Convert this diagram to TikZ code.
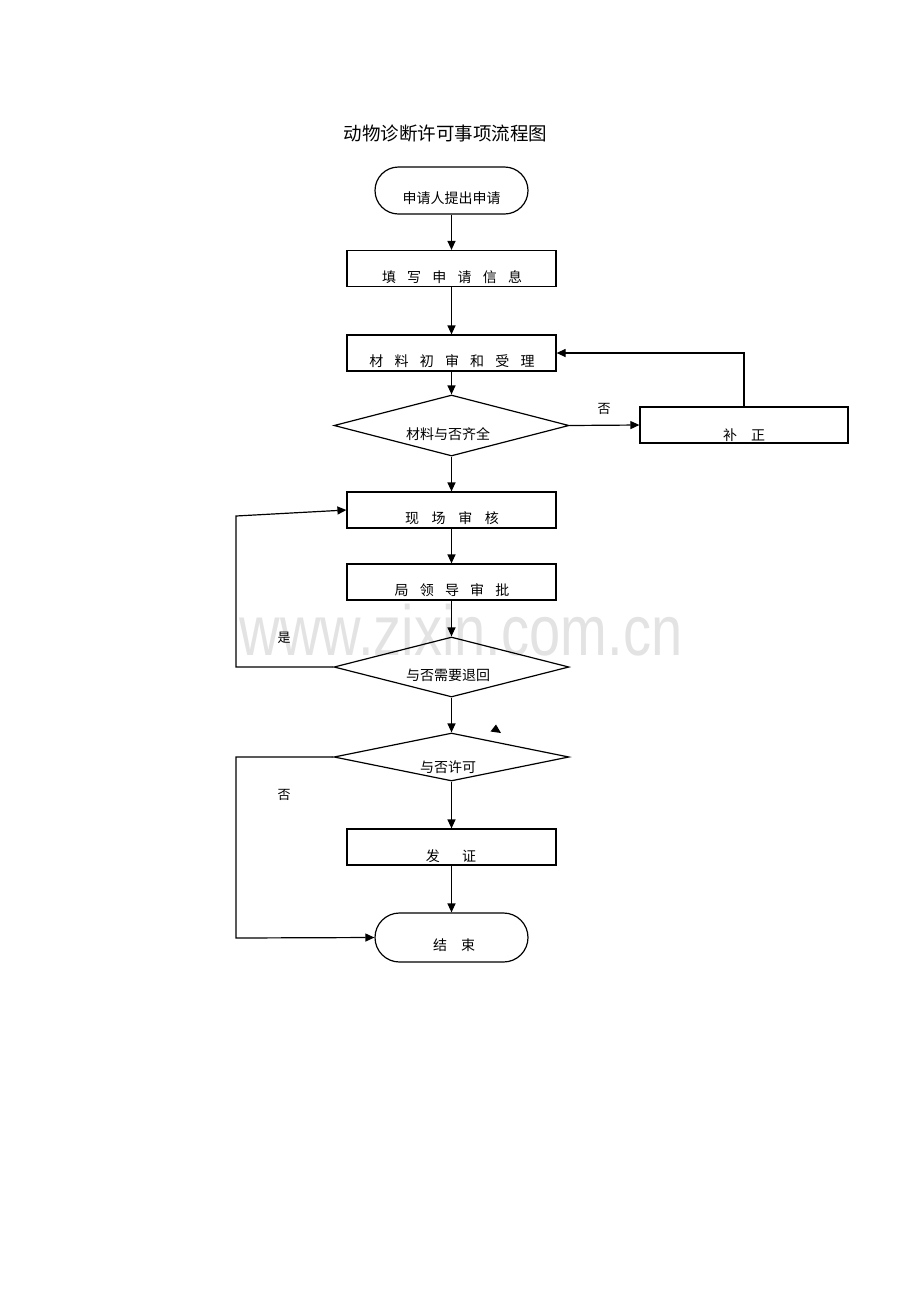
\documentclass[tikz,border=0pt]{standalone}
\usepackage{fontspec}
\setmainfont{Liberation Sans}
\newfontfamily\cjk{Noto Sans CJK SC}
\usetikzlibrary{arrows.meta,shapes.geometric,shapes.misc}
\begin{document}
\begin{tikzpicture}[x=1pt,y=-1pt,
  line width=1.2pt,
  arr/.style={-{Triangle[length=9pt,width=8pt]}},
  flowbox/.style={draw,rectangle,minimum width=209pt,minimum height=36pt,inner sep=0pt},
  fixbox/.style={draw,rectangle,minimum width=208pt,minimum height=36pt,inner sep=0pt},
  term/.style={draw,rounded rectangle,minimum width=153pt,minimum height=47pt,inner sep=0pt},
  decide/.style={draw,diamond,inner sep=0pt},
  txt/.style={font=\cjk\fontsize{14}{14}\selectfont,inner sep=0pt},
  lbl/.style={font=\cjk\fontsize{13}{13}\selectfont,inner sep=0pt}]
\useasboundingbox (0,0) rectangle (920,1302);
% watermark
\node[text=black!11,font=\fontsize{71}{71}\selectfont,xscale=0.79,anchor=base,inner sep=0pt] (wm) at (461,655) {www.zixin.com.cn};
% title
\node[font=\cjk\fontsize{18.5}{18.5}\selectfont,inner sep=0pt] (title) at (445.5,133) {动物诊断许可事项流程图};
% shapes
\node[term] (start) at (451.5,190.5) {};
\node[txt] (tstart) at (451.5,198) {申请人提出申请};
\node[flowbox] (b1) at (451.5,268.5) {};
\node[txt] (tb1) at (452,277) {填\hspace{0.8em}写\hspace{0.8em}申\hspace{0.8em}请\hspace{0.8em}信\hspace{0.8em}息};
\node[flowbox] (b2) at (451.5,353) {};
\node[txt] (tb2) at (452,361) {材\hspace{0.8em}料\hspace{0.8em}初\hspace{0.8em}审\hspace{0.8em}和\hspace{0.8em}受\hspace{0.8em}理};
\node[decide,minimum width=235pt,minimum height=61pt] (d1) at (451.5,425.5) {};
\node[txt] (td1) at (448,434) {材料与否齐全};
\node[fixbox] (fix) at (744,425) {};
\node[txt] (tfix) at (744,435) {补\hspace{1em}正};
\node[flowbox] (b3) at (451.5,510) {};
\node[txt] (tb3) at (452,518) {现\hspace{0.9em}场\hspace{0.9em}审\hspace{0.9em}核};
\node[flowbox] (b4) at (451.5,582) {};
\node[txt] (tb4) at (452,590) {局\hspace{0.8em}领\hspace{0.8em}导\hspace{0.8em}审\hspace{0.8em}批};
\node[decide,minimum width=235pt,minimum height=60pt] (d2) at (451.5,667) {};
\node[txt] (td2) at (448,675) {与否需要退回};
\node[decide,minimum width=235pt,minimum height=48pt] (d3) at (451.5,757) {};
\node[txt] (td3) at (448,767) {与否许可};
\node[flowbox] (b5) at (451.5,847) {};
\node[txt] (tb5) at (451,856) {发\hspace{1.6em}证};
\node[term,minimum height=49pt] (end) at (451.5,937.5) {};
\node[txt] (tend) at (454,945) {结\hspace{1em}束};
% labels
\node[lbl] (no1) at (604,409) {否};
\node[lbl] (yes2) at (284,638) {是};
\node[lbl] (no3) at (284,795) {否};
% helper coordinates
\coordinate (fixup) at (744,353);
\coordinate (l1) at (236,667);
\coordinate (l2) at (236,516);
\coordinate (m1) at (236,757);
\coordinate (m2) at (236,938);
% connectors
\draw[arr] (start) -- (b1);
\draw[arr] (b1) -- (b2);
\draw[arr] (b2) -- (d1);
\draw[arr] (d1.east) -- (fix.west);
\draw[arr] (fix.north) -- (fixup) -- (b2.east);
\draw[arr] (d1) -- (b3);
\draw[arr] (b3) -- (b4);
\draw[arr] (b4) -- (d2);
\draw[arr] (d2.west) -- (l1) -- (l2) -- (b3.west);
\draw[arr] (d2) -- (d3);
\draw[arr] (d3.west) -- (m1) -- (m2) -- (end.west);
\draw[arr] (d3) -- (b5);
\draw[arr] (b5) -- (end);
% stray arrowhead
\fill (496,724.5) -- (490.5,731.5) -- (501,733) -- cycle;
\end{tikzpicture}
\end{document}
